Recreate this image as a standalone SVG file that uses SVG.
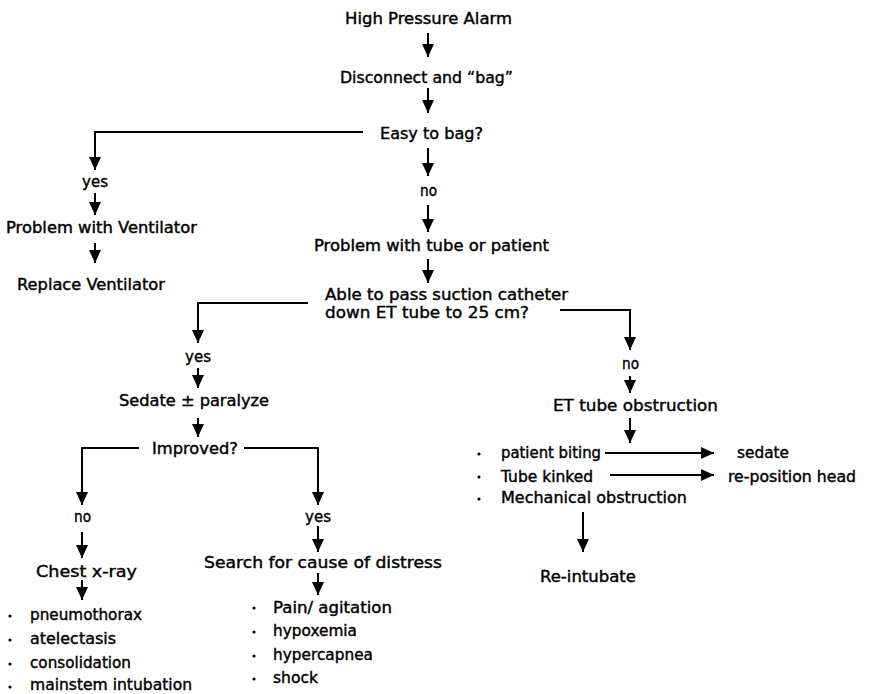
<svg xmlns="http://www.w3.org/2000/svg" width="871" height="694" viewBox="0 0 871 694">
<style>
text{font-family:"DejaVu Sans","Liberation Sans",sans-serif;font-size:15px;fill:#000;stroke:#000;stroke-width:0.4}
.c{text-anchor:middle}
.ln{fill:none;stroke:#000;stroke-width:2}
.ar{fill:none;stroke:#000;stroke-width:2;marker-end:url(#ah)}
.dot{fill:#000}
</style>
<defs>
<marker id="ah" markerUnits="userSpaceOnUse" markerWidth="14" markerHeight="14" refX="13" refY="7" orient="auto">
<path d="M0,1 L13,7 L0,13 z" fill="#000"/>
</marker>
</defs>
<rect width="871" height="694" fill="#fff"/>
<g id="connectors">
<line class="ar" x1="428" y1="33" x2="428" y2="57"/>
<line class="ar" x1="428" y1="88" x2="428" y2="113"/>
<polyline class="ar" points="363,132 95,132 95,170"/>
<line class="ar" x1="428" y1="148" x2="428" y2="176"/>
<line class="ar" x1="428" y1="205" x2="428" y2="232"/>
<line class="ar" x1="428" y1="259" x2="428" y2="283"/>
<line class="ar" x1="95" y1="193" x2="95" y2="215"/>
<line class="ar" x1="95" y1="243" x2="95" y2="263"/>
<polyline class="ar" points="308,303 198,303 198,343"/>
<polyline class="ar" points="560,310 630,310 630,350"/>
<line class="ar" x1="630" y1="376" x2="630" y2="393"/>
<line class="ar" x1="630" y1="418" x2="630" y2="443"/>
<line class="ar" x1="198" y1="368" x2="198" y2="388"/>
<line class="ar" x1="198" y1="418" x2="198" y2="437"/>
<polyline class="ar" points="139,448 82,448 82,505"/>
<polyline class="ar" points="244,448 318,448 318,505"/>
<line class="ar" x1="82" y1="532" x2="82" y2="558"/>
<line class="ar" x1="82" y1="580" x2="82" y2="600"/>
<line class="ar" x1="318" y1="526" x2="318" y2="552"/>
<line class="ar" x1="318" y1="573" x2="318" y2="595"/>
<line class="ar" x1="605" y1="453" x2="714" y2="453"/>
<line class="ar" x1="610" y1="475" x2="714" y2="475"/>
<line class="ar" x1="583" y1="512" x2="583" y2="552"/>
</g>
<g id="n-alarm"><text x="345" y="24" textLength="167" lengthAdjust="spacingAndGlyphs">High Pressure Alarm</text></g>
<g id="n-disconnect"><text x="340" y="83" textLength="173" lengthAdjust="spacingAndGlyphs">Disconnect and “bag”</text></g>
<g id="n-easy"><text x="380" y="139" textLength="103" lengthAdjust="spacingAndGlyphs">Easy to bag?</text></g>
<g id="n-no1"><text x="420" y="196" textLength="17" lengthAdjust="spacingAndGlyphs">no</text></g>
<g id="n-tube-patient"><text x="314" y="251" textLength="235" lengthAdjust="spacingAndGlyphs">Problem with tube or patient</text></g>
<g id="n-suction"><text x="325" y="300" textLength="243" lengthAdjust="spacingAndGlyphs">Able to pass suction catheter</text><text x="325" y="318" textLength="204" lengthAdjust="spacingAndGlyphs">down ET tube to 25 cm?</text></g>
<g id="n-yes1"><text x="82" y="187" textLength="26" lengthAdjust="spacingAndGlyphs">yes</text></g>
<g id="n-vent-problem"><text x="6" y="233" textLength="191" lengthAdjust="spacingAndGlyphs">Problem with Ventilator</text></g>
<g id="n-replace"><text x="17" y="290" textLength="148" lengthAdjust="spacingAndGlyphs">Replace Ventilator</text></g>
<g id="n-no2"><text x="622" y="369" textLength="17" lengthAdjust="spacingAndGlyphs">no</text></g>
<g id="n-obstruction"><text x="553" y="411" textLength="165" lengthAdjust="spacingAndGlyphs">ET tube obstruction</text></g>
<g id="n-obstruction-list">
<circle class="dot" cx="479" cy="454" r="1.6"/><text x="501" y="458" textLength="100" lengthAdjust="spacingAndGlyphs">patient biting</text>
<circle class="dot" cx="479" cy="477" r="1.6"/><text x="501" y="482" textLength="92" lengthAdjust="spacingAndGlyphs">Tube kinked</text>
<circle class="dot" cx="479" cy="499" r="1.6"/><text x="501" y="503" textLength="186" lengthAdjust="spacingAndGlyphs">Mechanical obstruction</text>
</g>
<g id="n-sedate2"><text x="737" y="458" textLength="52" lengthAdjust="spacingAndGlyphs">sedate</text></g>
<g id="n-reposition"><text x="728" y="482" textLength="128" lengthAdjust="spacingAndGlyphs">re-position head</text></g>
<g id="n-reintubate"><text x="540" y="582" textLength="96" lengthAdjust="spacingAndGlyphs">Re-intubate</text></g>
<g id="n-yes2"><text x="185" y="362" textLength="26" lengthAdjust="spacingAndGlyphs">yes</text></g>
<g id="n-sedate"><text x="119" y="406" textLength="150" lengthAdjust="spacingAndGlyphs">Sedate ± paralyze</text></g>
<g id="n-improved"><text x="152" y="454" textLength="86" lengthAdjust="spacingAndGlyphs">Improved?</text></g>
<g id="n-no3"><text x="74" y="522" textLength="17" lengthAdjust="spacingAndGlyphs">no</text></g>
<g id="n-yes3"><text x="305" y="522" textLength="26" lengthAdjust="spacingAndGlyphs">yes</text></g>
<g id="n-xray"><text x="36" y="577" textLength="101" lengthAdjust="spacingAndGlyphs">Chest x-ray</text></g>
<g id="n-xray-list">
<circle class="dot" cx="10" cy="616" r="1.6"/><text x="30" y="620" textLength="112" lengthAdjust="spacingAndGlyphs">pneumothorax</text>
<circle class="dot" cx="10" cy="640" r="1.6"/><text x="30" y="644" textLength="86" lengthAdjust="spacingAndGlyphs">atelectasis</text>
<circle class="dot" cx="10" cy="664" r="1.6"/><text x="30" y="668" textLength="101" lengthAdjust="spacingAndGlyphs">consolidation</text>
<circle class="dot" cx="10" cy="687" r="1.6"/><text x="30" y="690" textLength="162" lengthAdjust="spacingAndGlyphs">mainstem intubation</text>
</g>
<g id="n-search"><text x="204" y="568" textLength="238" lengthAdjust="spacingAndGlyphs">Search for cause of distress</text></g>
<g id="n-search-list">
<circle class="dot" cx="254" cy="608" r="1.6"/><text x="273" y="613" textLength="119" lengthAdjust="spacingAndGlyphs">Pain/ agitation</text>
<circle class="dot" cx="254" cy="632" r="1.6"/><text x="273" y="636" textLength="84" lengthAdjust="spacingAndGlyphs">hypoxemia</text>
<circle class="dot" cx="254" cy="656" r="1.6"/><text x="273" y="660" textLength="100" lengthAdjust="spacingAndGlyphs">hypercapnea</text>
<circle class="dot" cx="254" cy="679" r="1.6"/><text x="273" y="683" textLength="45" lengthAdjust="spacingAndGlyphs">shock</text>
</g>
</svg>
